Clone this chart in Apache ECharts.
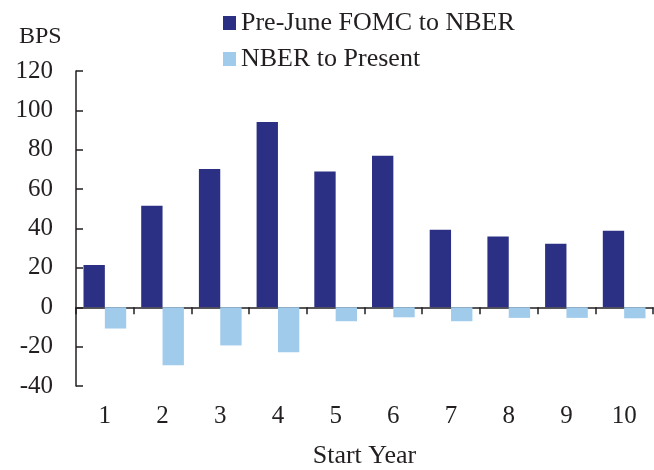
<!DOCTYPE html>
<html>
<head>
<meta charset="utf-8">
<script src="https://cdn.jsdelivr.net/npm/echarts@6/dist/echarts.min.js"></script>
<style>html,body{margin:0;padding:0;background:#fff}#c{width:654px;height:470px}</style>
</head>
<body>
<div id="c"></div>
<script>
var categories = ['1','2','3','4','5','6','7','8','9','10'];
var preJune = [21.5, 51.6, 70.2, 94.1, 68.9, 77.0, 39.4, 35.9, 32.2, 38.9];
var nberToPresent = [-10.8, -29.4, -19.4, -22.8, -7.1, -5.1, -7.1, -5.4, -5.4, -5.6];
var yTicks = { min: -40, max: 120, interval: 20 };

var FONT = "'Liberation Serif', 'Times New Roman', serif";
var INK = '#231F20';
var chart = echarts.init(document.getElementById('c'), null, {renderer: 'canvas'});
chart.setOption({
  animation: false,
  backgroundColor: '#fff',
  textStyle: {fontFamily: FONT, color: INK},
  title: {
    text: 'BPS', left: 14, top: 20,
    textStyle: {fontFamily: FONT, fontSize: 24, fontWeight: 'normal', color: INK}
  },
  legend: {
    orient: 'vertical', left: 218, top: 5,
    itemWidth: 13, itemHeight: 14, itemGap: 10,
    icon: 'rect',
    textStyle: {fontFamily: FONT, fontSize: 26, color: INK, lineHeight: 26},
    data: ['Pre-June FOMC to NBER', 'NBER to Present']
  },
  grid: {left: 76, right: 1, top: 71, bottom: 84, containLabel: false, outerBoundsMode: 'none'},
  xAxis: [{
    type: 'category', data: categories,
    axisLine: {show: true, onZero: true, lineStyle: {color: INK, width: 1.5}},
    axisTick: {show: true, inside: false, length: 7, lineStyle: {color: INK, width: 1.5}},
    axisLabel: {show: false}
  }, {
    type: 'category', data: categories, position: 'bottom',
    axisLine: {show: false, onZero: false},
    axisTick: {show: false},
    axisLabel: {show: true, margin: 18, fontFamily: FONT, fontSize: 25, color: INK},
    name: 'Start Year', nameLocation: 'middle', nameGap: 57,
    nameTextStyle: {fontFamily: FONT, fontSize: 26, color: INK}
  }],
  yAxis: {
    type: 'value', min: yTicks.min, max: yTicks.max, interval: yTicks.interval,
    axisLine: {show: true, lineStyle: {color: INK, width: 1.5}},
    axisTick: {show: true, inside: true, length: 7, lineStyle: {color: INK, width: 1.5}},
    splitLine: {show: false},
    axisLabel: {margin: 23, fontFamily: FONT, fontSize: 25, color: INK}
  },
  series: [{
    name: 'Pre-June FOMC to NBER', type: 'bar', data: preJune,
    xAxisIndex: 0,
    barGap: '0%', barCategoryGap: '26%',
    itemStyle: {color: '#2B3084'}
  }, {
    name: 'NBER to Present', type: 'bar', data: nberToPresent,
    xAxisIndex: 0,
    barGap: '0%', barCategoryGap: '26%',
    itemStyle: {color: '#A0CBEB'}
  }]
});
</script>
</body>
</html>
